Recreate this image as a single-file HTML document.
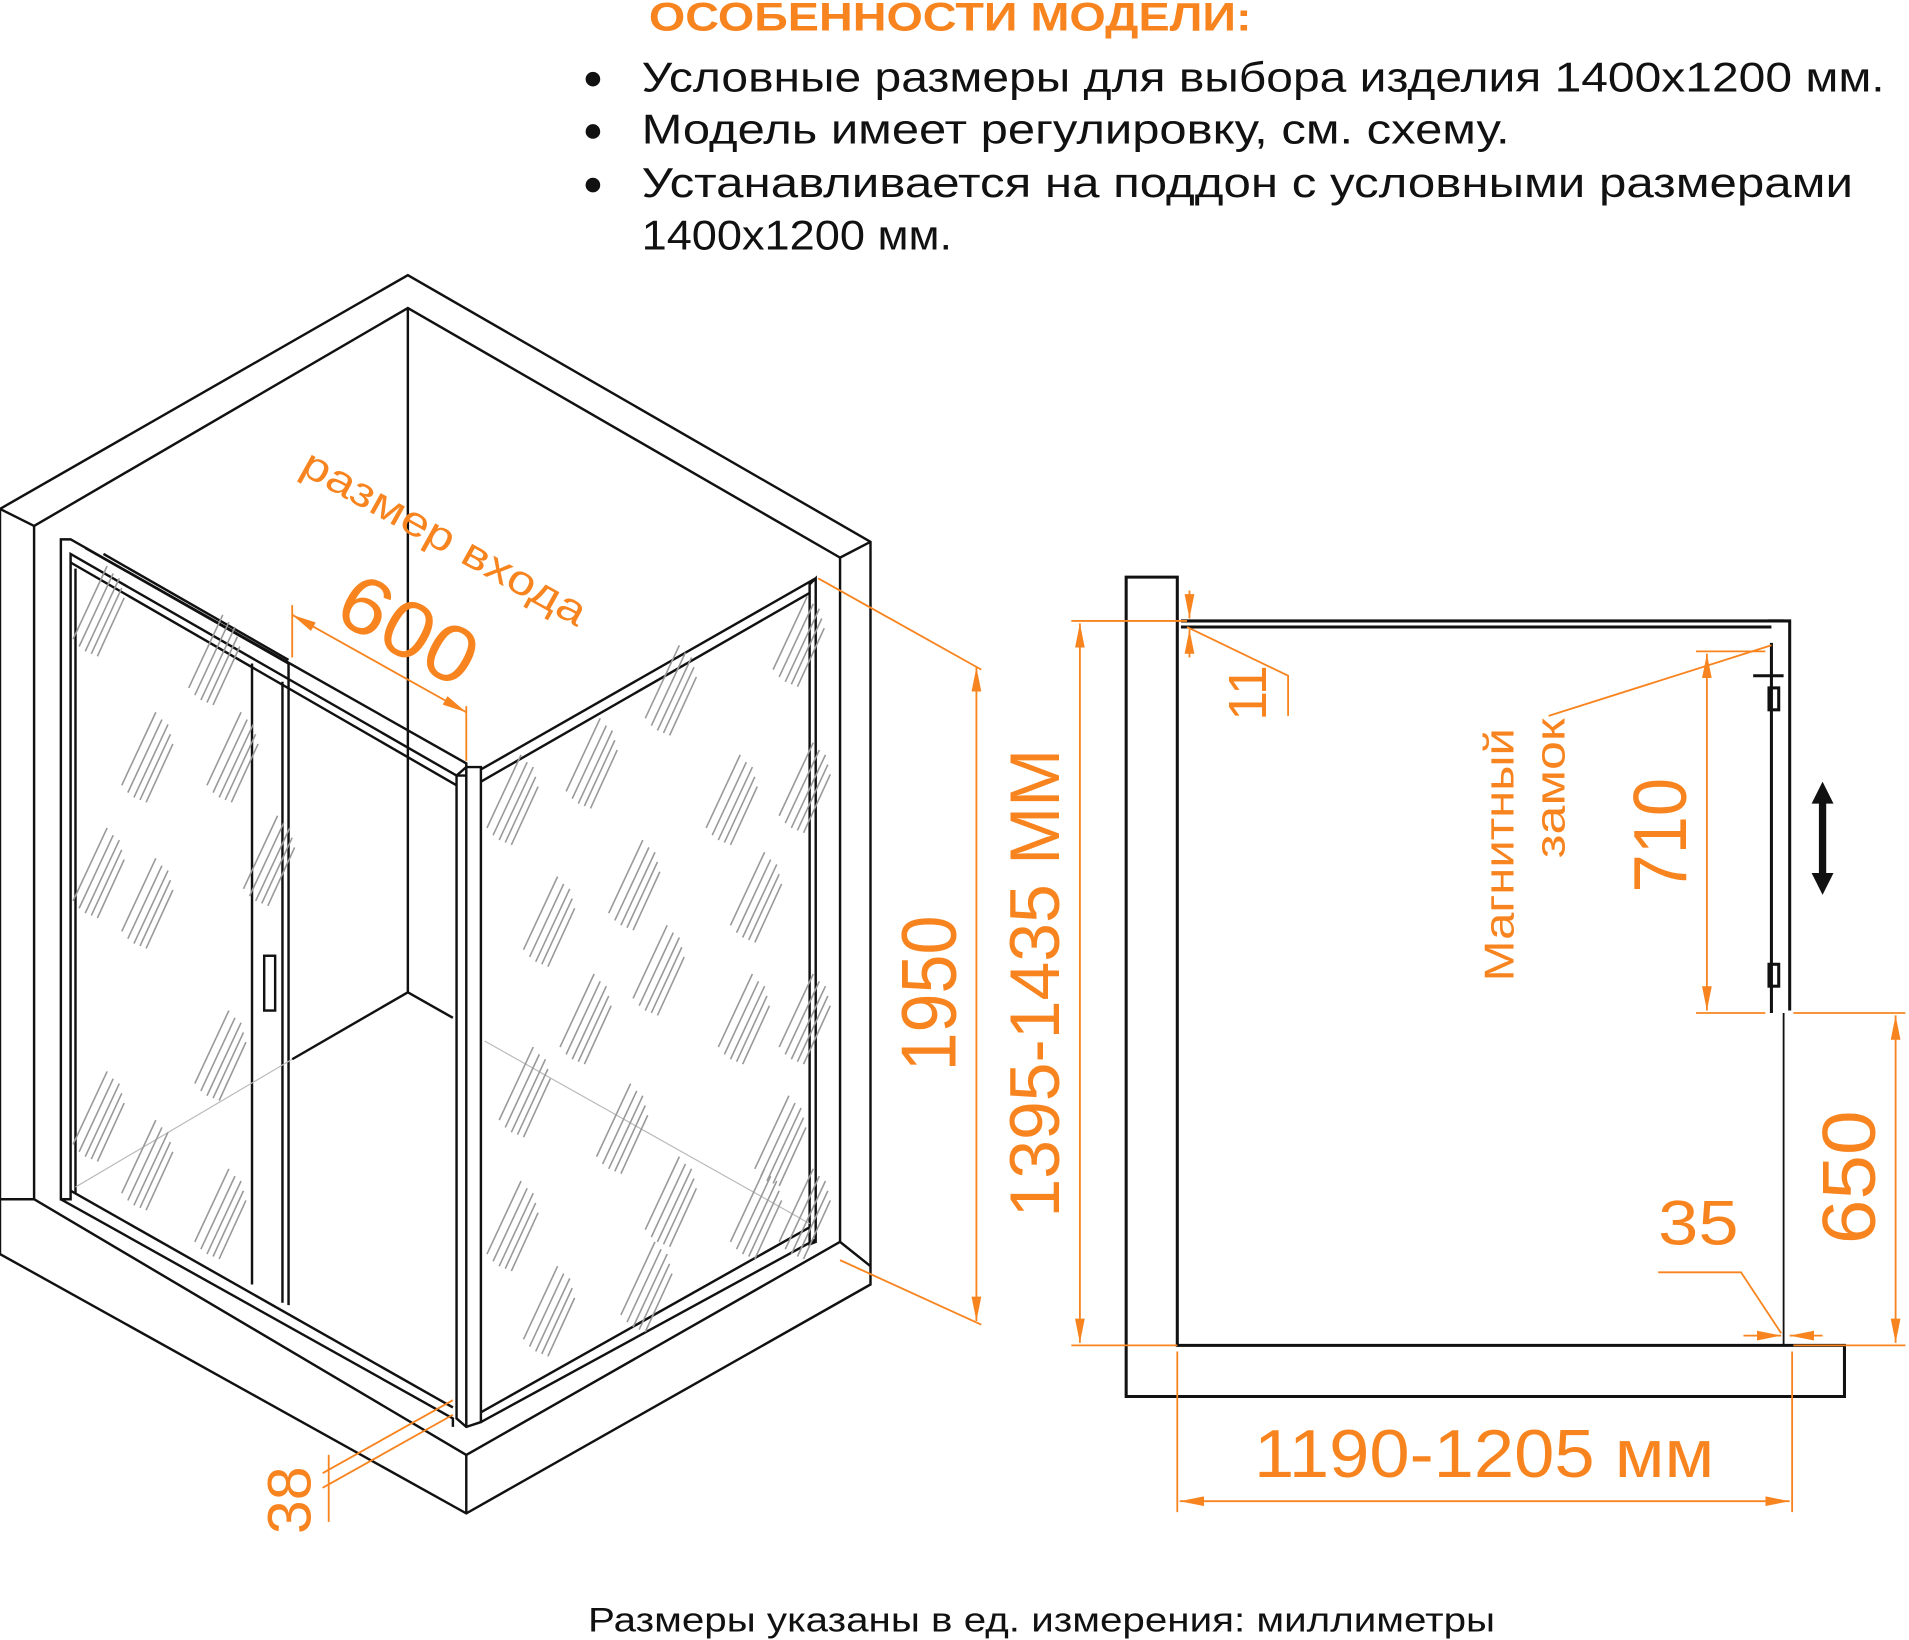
<!DOCTYPE html>
<html><head><meta charset="utf-8"><style>html,body{margin:0;padding:0;background:#fff}svg{display:block}</style></head>
<body>
<svg width="1909" height="1640" viewBox="0 0 1568 1347" preserveAspectRatio="none" xmlns="http://www.w3.org/2000/svg" font-family="Liberation Sans, sans-serif">
<defs>
<g id="st" stroke="#999" stroke-width="1.3">
<line x1="0" y1="60" x2="28" y2="0"/><line x1="5" y1="66" x2="33" y2="6"/><line x1="10" y1="70" x2="38" y2="10"/><line x1="15" y1="72" x2="40" y2="18"/><line x1="20" y1="74" x2="42" y2="26"/>
</g>
<marker id="a" viewBox="0 0 20 8" refX="20" refY="4" markerWidth="20" markerHeight="8" orient="auto-start-reverse" markerUnits="userSpaceOnUse"><path d="M0,0 L20,4 L0,8z" fill="#f7841f"/></marker>
</defs>
<!-- header -->
<text x="533" y="25" font-size="33" font-weight="bold" fill="#f7841f" textLength="495" lengthAdjust="spacingAndGlyphs">ОСОБЕННОСТИ МОДЕЛИ:</text>
<g font-size="34" fill="#111">
<circle cx="487" cy="65" r="6"/><circle cx="487" cy="108" r="6"/><circle cx="487" cy="152" r="6"/>
<text x="527" y="75" textLength="1021" lengthAdjust="spacingAndGlyphs">Условные размеры для выбора изделия 1400х1200 мм.</text>
<text x="527" y="118" textLength="713" lengthAdjust="spacingAndGlyphs">Модель имеет регулировку, см. схему.</text>
<text x="527" y="162" textLength="995" lengthAdjust="spacingAndGlyphs">Устанавливается на поддон с условными размерами</text>
<text x="527" y="205" textLength="255" lengthAdjust="spacingAndGlyphs">1400х1200 мм.</text>
</g>
<text x="483" y="1340" font-size="28" fill="#111" textLength="745" lengthAdjust="spacingAndGlyphs">Размеры указаны в ед. измерения: миллиметры</text>

<!-- left isometric -->
<g fill="none" stroke="#111" stroke-width="2">
<polygon points="0,418 335,226 715,445 715,1055 383,1243 0,1030"/>
<polyline points="28,432 335,253 690,458"/>
<line x1="0" y1="418" x2="28" y2="432"/>
<line x1="715" y1="445" x2="690" y2="458"/>
<line x1="28" y1="432" x2="28" y2="985"/>
<line x1="690" y1="458" x2="690" y2="1020"/>
<line x1="335" y1="253" x2="335" y2="815"/>
<line x1="335" y1="815" x2="240" y2="870"/>
<line x1="335" y1="815" x2="372" y2="836"/>
<polyline points="0,985 28,985 383,1195 690,1020 715,1040"/>
<line x1="383" y1="1195" x2="383" y2="1243"/>
<polygon points="50,443 58,443 383,627 383,637 375,637 58,455 58,985 50,985"/>
<line x1="58" y1="462" x2="375" y2="645"/>
<line x1="70" y1="450" x2="237" y2="545"/>
<line x1="85" y1="455" x2="237" y2="542"/>
<line x1="62" y1="467" x2="62" y2="980"/>
<polyline points="50,985 372,1165 372,1172"/>
<line x1="58" y1="978" x2="372" y2="1156"/>
<line x1="207" y1="545" x2="207" y2="1055"/>
<line x1="237" y1="545" x2="237" y2="1072"/>
<line x1="232" y1="560" x2="232" y2="1070"/>
<rect x="217" y="785" width="9" height="45"/>
<polygon points="375,637 383,630 395,630 395,1168 383,1172 375,1165"/>
<line x1="383" y1="637" x2="383" y2="1172"/>
<line x1="395" y1="632" x2="670" y2="475"/>
<line x1="395" y1="642" x2="665" y2="487"/>
<polygon points="665,480 670,475 670,1020 665,1022"/>
<line x1="395" y1="1160" x2="665" y2="1008"/>
<line x1="395" y1="1168" x2="670" y2="1018"/>
</g>
<g stroke="#bbb" stroke-width="1" fill="none"><line x1="240" y1="870" x2="62" y2="975"/><line x1="398" y1="855" x2="665" y2="1005"/></g>
<use href="#st" x="60" y="465"/><use href="#st" x="100" y="585"/><use href="#st" x="170" y="585"/><use href="#st" x="155" y="505"/><use href="#st" x="60" y="680"/><use href="#st" x="100" y="705"/><use href="#st" x="160" y="830"/><use href="#st" x="100" y="920"/><use href="#st" x="160" y="960"/><use href="#st" x="60" y="880"/><use href="#st" x="200" y="670"/>
<use href="#st" x="400" y="620"/><use href="#st" x="465" y="590"/><use href="#st" x="530" y="530"/><use href="#st" x="580" y="620"/><use href="#st" x="635" y="490"/><use href="#st" x="430" y="720"/><use href="#st" x="500" y="690"/><use href="#st" x="600" y="700"/><use href="#st" x="640" y="610"/><use href="#st" x="410" y="860"/><use href="#st" x="460" y="800"/><use href="#st" x="520" y="760"/><use href="#st" x="590" y="800"/><use href="#st" x="640" y="800"/><use href="#st" x="400" y="970"/><use href="#st" x="490" y="890"/><use href="#st" x="530" y="950"/><use href="#st" x="620" y="900"/><use href="#st" x="430" y="1040"/><use href="#st" x="510" y="1020"/><use href="#st" x="600" y="960"/><use href="#st" x="640" y="960"/>

<g stroke="#f7841f" stroke-width="1.5" fill="none">
<line x1="240" y1="497" x2="240" y2="540"/><line x1="383" y1="580" x2="383" y2="625"/>
<line x1="240" y1="505" x2="383" y2="585" marker-start="url(#a)" marker-end="url(#a)"/>
<line x1="672" y1="475" x2="806" y2="550"/><line x1="690" y1="1035" x2="806" y2="1088"/>
<line x1="802" y1="548" x2="802" y2="1085" marker-start="url(#a)" marker-end="url(#a)"/>
<line x1="265" y1="1222" x2="372" y2="1162"/><line x1="265" y1="1210" x2="372" y2="1150"/>
<line x1="270" y1="1195" x2="270" y2="1250"/>
</g>
<g fill="#f7841f">
<text font-size="34" transform="translate(245,388) rotate(29)" textLength="262" lengthAdjust="spacingAndGlyphs">размер входа</text>
<text font-size="66" transform="translate(272,508) rotate(29)" textLength="120" lengthAdjust="spacingAndGlyphs">600</text>
<text font-size="64" transform="translate(785,880) rotate(-90)" textLength="128" lengthAdjust="spacingAndGlyphs">1950</text>
<text font-size="50" transform="translate(255,1260) rotate(-90)">38</text>
</g>

<g stroke="#111" stroke-width="2.5" fill="none">
<polygon points="925,474 967,474 967,1105 1515,1105 1515,1147 925,1147"/>
<line x1="970" y1="510" x2="1465" y2="510"/><line x1="970" y1="515" x2="1455" y2="515"/>
<polyline points="1452,510 1470,510 1470,830"/>
<line x1="1455" y1="528" x2="1455" y2="832"/>
<line x1="1465" y1="832" x2="1465" y2="1105" stroke-width="1.5"/>
<line x1="1440" y1="555" x2="1465" y2="555"/>
<rect x="1453" y="565" width="8" height="18"/><rect x="1453" y="792" width="8" height="18"/>
</g>
<path d="M1497,642 L1506,660 L1500,660 L1500,717 L1506,717 L1497,735 L1488,717 L1494,717 L1494,660 L1488,660z" fill="#111"/>
<g stroke="#f7841f" stroke-width="1.5" fill="none">
<line x1="880" y1="510" x2="975" y2="510"/><line x1="880" y1="1105" x2="967" y2="1105"/>
<line x1="887" y1="512" x2="887" y2="1103" marker-start="url(#a)" marker-end="url(#a)"/>
<line x1="977" y1="485" x2="977" y2="508" marker-end="url(#a)"/><line x1="977" y1="540" x2="977" y2="517" marker-end="url(#a)"/>
<polyline points="975,515 1058,555 1058,588"/>
<line x1="1393" y1="535" x2="1450" y2="535"/><line x1="1393" y1="832" x2="1450" y2="832"/>
<line x1="1402" y1="537" x2="1402" y2="830" marker-start="url(#a)" marker-end="url(#a)"/>
<line x1="1272" y1="588" x2="1455" y2="530"/>
<line x1="1473" y1="832" x2="1565" y2="832"/><line x1="1473" y1="1105" x2="1565" y2="1105"/>
<line x1="1557" y1="834" x2="1557" y2="1103" marker-start="url(#a)" marker-end="url(#a)"/>
<polyline points="1362,1045 1430,1045 1463,1095"/>
<line x1="1432" y1="1097" x2="1463" y2="1097" marker-end="url(#a)"/><line x1="1497" y1="1097" x2="1470" y2="1097" marker-end="url(#a)"/>
<line x1="967" y1="1110" x2="967" y2="1242"/><line x1="1472" y1="1110" x2="1472" y2="1242"/>
<line x1="969" y1="1233" x2="1470" y2="1233" marker-start="url(#a)" marker-end="url(#a)"/>
</g>
<g fill="#f7841f">
<text font-size="58" transform="translate(870,1000) rotate(-90)" textLength="385" lengthAdjust="spacingAndGlyphs">1395-1435 ММ</text>
<text font-size="44" transform="translate(1040,592) rotate(-90)">11</text>
<text font-size="34" transform="translate(1243,806) rotate(-90)" textLength="208" lengthAdjust="spacingAndGlyphs">Магнитный</text>
<text font-size="34" transform="translate(1285,705) rotate(-90)" textLength="115" lengthAdjust="spacingAndGlyphs">замок</text>
<text font-size="62" transform="translate(1385,733) rotate(-90)" textLength="94" lengthAdjust="spacingAndGlyphs">710</text>
<text font-size="62" transform="translate(1540,1022) rotate(-90)" textLength="110" lengthAdjust="spacingAndGlyphs">650</text>
<text font-size="52" x="1362" y="1022" textLength="66" lengthAdjust="spacingAndGlyphs">35</text>
<text font-size="56" x="1030" y="1213" textLength="378" lengthAdjust="spacingAndGlyphs">1190-1205 мм</text>
</g>
</svg>
</body></html>
